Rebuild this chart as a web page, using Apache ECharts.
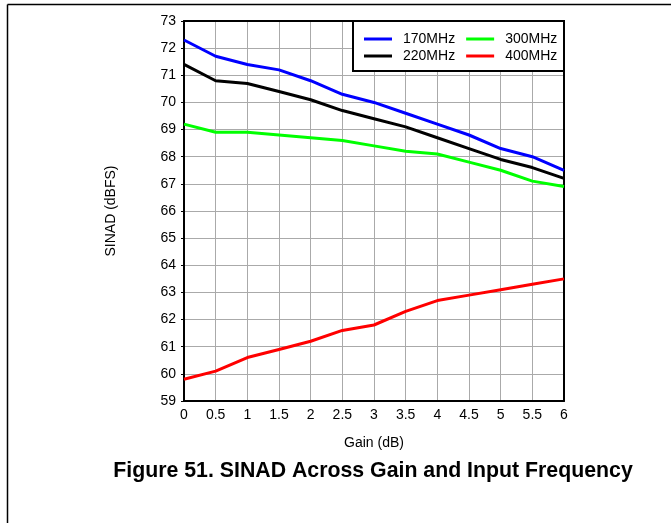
<!DOCTYPE html>
<html>
<head>
<meta charset="utf-8">
<script src="https://cdn.jsdelivr.net/npm/echarts@6/dist/echarts.min.js"></script>
<style>
  html, body { margin: 0; padding: 0; background: #fff; }
  #chart { width: 671px; height: 523px; }
</style>
</head>
<body>
<div id="chart"></div>
<script>
// ---- data ----
const gains = [0, 0.5, 1, 1.5, 2, 2.5, 3, 3.5, 4, 4.5, 5, 5.5, 6];
const sinad170 = [72.3, 71.7, 71.4, 71.2, 70.8, 70.3, 70.0, 69.6, 69.2, 68.8, 68.3, 68.0, 67.5];
const sinad220 = [71.4, 70.8, 70.7, 70.4, 70.1, 69.7, 69.4, 69.1, 68.7, 68.3, 67.9, 67.6, 67.2];
const sinad300 = [69.2, 68.9, 68.9, 68.8, 68.7, 68.6, 68.4, 68.2, 68.1, 67.8, 67.5, 67.1, 66.9];
const sinad400 = [59.8, 60.1, 60.6, 60.9, 61.2, 61.6, 61.8, 62.3, 62.7, 62.9, 63.1, 63.3, 63.5];
const seriesNames = ['170MHz', '220MHz', '300MHz', '400MHz'];
const seriesColors = ['#0000ff', '#000000', '#00ff00', '#ff0000'];
const xTitle = 'Gain (dB)';
const yTitle = 'SINAD (dBFS)';
const figTitle = 'Figure 51. SINAD Across Gain and Input Frequency';

const FONT = "'Liberation Sans', Arial, sans-serif";
const pair = (ys) => gains.map((g, i) => [g, ys[i]]);
const allValues = [sinad170, sinad220, sinad300, sinad400];

const chart = echarts.init(document.getElementById('chart'), null, { renderer: 'canvas' });

const legendCommon = {
  orient: 'horizontal',
  left: 364,
  icon: 'rect',
  itemWidth: 28,
  itemHeight: 3,
  itemGap: 11,
  padding: 0,
  selectedMode: false,
  z: 20,
  textStyle: { fontFamily: FONT, fontSize: 14, color: '#000', padding: [0, 0, 0, 6] }
};

chart.setOption({
  animation: false,
  backgroundColor: '#fff',
  grid: { left: 184, top: 21, width: 380, height: 380, containLabel: false },
  legend: [
    Object.assign({}, legendCommon, { top: 32, data: ['170MHz', '300MHz'] }),
    Object.assign({}, legendCommon, { top: 49, data: ['220MHz', '400MHz'] })
  ],
  xAxis: [
    {
      type: 'value', min: 0, max: 6, interval: 0.5,
      name: xTitle, nameLocation: 'middle', nameGap: 35,
      nameTextStyle: { fontFamily: FONT, fontSize: 14, color: '#000' },
      axisLine: { show: true, onZero: false, lineStyle: { color: '#000', width: 2 } },
      axisTick: { show: false },
      axisLabel: { fontFamily: FONT, fontSize: 14, color: '#000', margin: 7 },
      splitLine: { show: true, lineStyle: { color: '#aaaaaa', width: 1 } }
    },
    {
      type: 'value', min: 0, max: 6, interval: 0.5, position: 'top',
      axisLine: { show: true, onZero: false, lineStyle: { color: '#000', width: 2 } },
      axisTick: { show: false }, axisLabel: { show: false }, splitLine: { show: false }
    }
  ],
  yAxis: [
    {
      type: 'value', min: 59, max: 73, interval: 1,
      name: yTitle, nameLocation: 'middle', nameGap: 66, nameRotate: 90,
      nameTextStyle: { fontFamily: FONT, fontSize: 14, color: '#000' },
      axisLine: { show: true, onZero: false, lineStyle: { color: '#000', width: 2 } },
      axisTick: { show: true, inside: false, length: 3, lineStyle: { color: '#000', width: 1 } },
      axisLabel: { fontFamily: FONT, fontSize: 14, color: '#000', margin: 8 },
      splitLine: { show: true, lineStyle: { color: '#aaaaaa', width: 1 } }
    },
    {
      type: 'value', min: 59, max: 73, interval: 1, position: 'right',
      axisLine: { show: true, onZero: false, lineStyle: { color: '#000', width: 2 } },
      axisTick: { show: false }, axisLabel: { show: false }, splitLine: { show: false }
    }
  ],
  series: seriesNames.map((name, k) => ({
    name: name,
    type: 'line',
    data: pair(allValues[k]),
    symbol: 'none',
    smooth: false,
    z: 3,
    color: seriesColors[k],
    lineStyle: { color: seriesColors[k], width: 3 }
  })),
  graphic: [
    { type: 'line', z: 1, shape: { x1: 7.5, y1: 4.5, x2: 671, y2: 4.5 }, style: { stroke: '#000', lineWidth: 1.5 } },
    { type: 'line', z: 1, shape: { x1: 7.5, y1: 4.5, x2: 7.5, y2: 523 }, style: { stroke: '#000', lineWidth: 1.5 } },
    { type: 'rect', z: 10, shape: { x: 353, y: 21, width: 211, height: 50 }, style: { fill: '#fff', stroke: '#000', lineWidth: 2 } },
    { type: 'text', z: 10, x: 373, y: 471, style: { text: figTitle, fontFamily: FONT, fontSize: 21.3, fontWeight: 'bold', fill: '#000', align: 'center', verticalAlign: 'middle' } }
  ]
});
</script>
</body>
</html>
